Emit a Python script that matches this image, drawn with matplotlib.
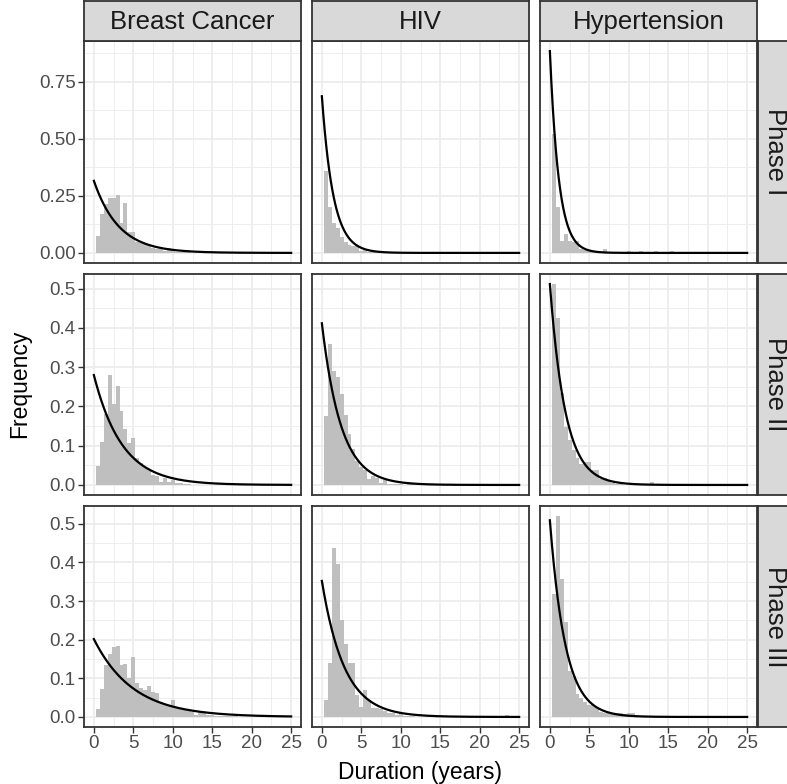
import numpy as np
import matplotlib
matplotlib.use("Agg")
import matplotlib.pyplot as plt

plt.rcParams["font.family"] = ["Liberation Sans", "DejaVu Sans"]

DISEASES = ["Breast Cancer", "HIV", "Hypertension"]
PHASES = ["Phase I", "Phase II", "Phase III"]
BIN_WIDTH = 0.5
FIRST_CENTER = 0.5

# histogram densities, bins centred at 0.5, 1.0, 1.5, ...
HIST = {
    ("Breast Cancer", "Phase I"): [0.076, 0.172, 0.216, 0.241, 0.241, 0.253, 0.131, 0.219, 0.091, 0.091,
                                   0.05, 0.045, 0.04, 0.035, 0.02, 0.018, 0.015, 0.01, 0.02, 0.012,
                                   0.005, 0.006, 0.003, 0.004],
    ("HIV", "Phase I"): [0.36, 0.20, 0.13, 0.11, 0.07, 0.05, 0.035, 0.03, 0.03, 0.01,
                         0.015, 0.005, 0.01, 0.004],
    ("Hypertension", "Phase I"): [0.52, 0.20, 0.054, 0.084, 0.054, 0.05, 0.054, 0.018, 0.013, 0.01,
                                  0.01, 0.008, 0.01, 0.019, 0.0, 0.0, 0.0, 0.0, 0.0, 0.007,
                                  0.0, 0.0, 0.007, 0.0, 0.0, 0.0, 0.007, 0.0, 0.0, 0.0,
                                  0.007],
    ("Breast Cancer", "Phase II"): [0.049, 0.11, 0.181, 0.28, 0.207, 0.253, 0.189, 0.142, 0.108, 0.12,
                                    0.069, 0.056, 0.047, 0.039, 0.026, 0.022, 0.008, 0.018, 0.008, 0.012,
                                    0.005, 0.005, 0.003, 0.002],
    ("HIV", "Phase II"): [0.175, 0.36, 0.29, 0.275, 0.232, 0.178, 0.13, 0.092, 0.06, 0.047,
                          0.039, 0.015, 0.022, 0.018, 0.005, 0.012, 0.003, 0.003, 0.002, 0.003,
                          0.0, 0.008, 0.002],
    ("Hypertension", "Phase II"): [0.512, 0.425, 0.234, 0.147, 0.115, 0.09, 0.069, 0.053, 0.058, 0.059,
                                   0.039, 0.038, 0.014, 0.018, 0.009, 0.005, 0.003, 0.003, 0.0, 0.0,
                                   0.0, 0.0, 0.0, 0.0, 0.0, 0.008],
    ("Breast Cancer", "Phase III"): [0.021, 0.073, 0.135, 0.163, 0.182, 0.184, 0.135, 0.137, 0.101, 0.154,
                                     0.088, 0.075, 0.071, 0.081, 0.064, 0.063, 0.039, 0.034, 0.03, 0.045,
                                     0.026, 0.021, 0.017, 0.015, 0.013, 0.004, 0.013, 0.009, 0.006, 0.004,
                                     0.003, 0.003, 0.002, 0.002, 0.002, 0.002],
    ("HIV", "Phase III"): [0.045, 0.14, 0.437, 0.395, 0.251, 0.189, 0.14, 0.139, 0.056, 0.026,
                           0.07, 0.043, 0.023, 0.023, 0.02, 0.015, 0.009, 0.009, 0.006, 0.009,
                           0.003, 0.003, 0.002, 0.0, 0.0, 0.0, 0.0, 0.0, 0.0, 0.0,
                           0.0, 0.0, 0.0, 0.0, 0.0, 0.0, 0.0, 0.0, 0.0, 0.0,
                           0.0, 0.0, 0.0, 0.0, 0.0, 0.0, 0.006],
    ("Hypertension", "Phase III"): [0.317, 0.52, 0.358, 0.247, 0.12, 0.107, 0.06, 0.049, 0.039, 0.032,
                                    0.03, 0.026, 0.013, 0.009, 0.009, 0.011, 0.01, 0.011, 0.007, 0.009,
                                    0.009],
}

# fitted exponential rates (density at 0)
RATES = {
    ("Breast Cancer", "Phase I"): 0.316, ("HIV", "Phase I"): 0.687, ("Hypertension", "Phase I"): 0.885,
    ("Breast Cancer", "Phase II"): 0.280, ("HIV", "Phase II"): 0.412, ("Hypertension", "Phase II"): 0.512,
    ("Breast Cancer", "Phase III"): 0.2015, ("HIV", "Phase III"): 0.352, ("Hypertension", "Phase III"): 0.509,
}

X_MAX = 25
Y_BREAKS = {
    "Phase I": [0, 0.25, 0.5, 0.75],
    "Phase II": [0, 0.1, 0.2, 0.3, 0.4, 0.5],
    "Phase III": [0, 0.1, 0.2, 0.3, 0.4, 0.5],
}
Y_FMT = {"Phase I": "{:.2f}", "Phase II": "{:.1f}", "Phase III": "{:.1f}"}

W, H = 787, 784
COLS = [(84, 301), (312, 529), (540, 757)]
ROWS = [(41, 263), (274, 495), (506, 727)]
GRID = "#EBEBEB"
DARK = "#333333"


def rect(l, t, r, b):
    return [l / W, 1 - b / H, (r - l) / W, (b - t) / H]


fig = plt.figure(figsize=(W / 100, H / 100), dpi=100)
xs = np.linspace(0, X_MAX, 400)

for i, phase in enumerate(PHASES):
    top = max(max(max(HIST[(d, phase)]), RATES[(d, phase)]) for d in DISEASES)
    ylim = (-0.05 * top, 1.05 * top)
    majors = Y_BREAKS[phase]
    step = majors[1] - majors[0]
    minors = [m + step / 2 for m in majors if ylim[0] < m + step / 2 < ylim[1]]
    for j, dis in enumerate(DISEASES):
        l, r = COLS[j]
        t, b = ROWS[i]
        ax = fig.add_axes(rect(l, t, r, b))
        heights = HIST[(dis, phase)]
        centers = FIRST_CENTER + BIN_WIDTH * np.arange(len(heights))
        ax.bar(centers, heights, width=BIN_WIDTH, color="#BFBFBF", linewidth=0, zorder=2)
        rate = RATES[(dis, phase)]
        ax.plot(xs, rate * np.exp(-rate * xs), color="black", lw=1.6, zorder=3)
        ax.set_xlim(-0.05 * X_MAX, 1.05 * X_MAX)
        ax.set_ylim(*ylim)
        ax.set_xticks(range(0, X_MAX + 1, 5))
        ax.set_xticks([x + 2.5 for x in range(0, X_MAX, 5)], minor=True)
        ax.set_yticks(majors)
        ax.set_yticks(minors, minor=True)
        ax.grid(which="major", color=GRID, lw=1.2, zorder=0)
        ax.grid(which="minor", color=GRID, lw=0.6, zorder=0)
        ax.set_axisbelow(True)
        for s in ax.spines.values():
            s.set_color(DARK)
            s.set_linewidth(1.3)
        ax.tick_params(which="minor", length=0)
        ax.tick_params(which="major", length=4, width=1.0, color=DARK,
                       labelsize=13.5, labelcolor="#4D4D4D", pad=2)
        if j == 0:
            ax.set_yticklabels([Y_FMT[phase].format(v) for v in majors])
        else:
            ax.tick_params(axis="y", which="major", length=0, labelleft=False)
        if i == len(PHASES) - 1:
            ax.set_xticklabels([str(v) for v in range(0, X_MAX + 1, 5)])
        else:
            ax.tick_params(axis="x", which="major", length=0, labelbottom=False)

        if i == 0:
            sa = fig.add_axes(rect(l, 1, r, 41))
            sa.set_facecolor("#D9D9D9")
            sa.set_xticks([])
            sa.set_yticks([])
            for s in sa.spines.values():
                s.set_color(DARK)
                s.set_linewidth(1.3)
            sa.text(0.5, 0.47, dis, ha="center", va="center", fontsize=18.5, color="#1A1A1A",
                    transform=sa.transAxes)

    sa = fig.add_axes(rect(758, ROWS[i][0], 798, ROWS[i][1]))
    sa.set_facecolor("#D9D9D9")
    sa.set_xticks([])
    sa.set_yticks([])
    for s in sa.spines.values():
        s.set_color(DARK)
        s.set_linewidth(1.3)
    sa.text(17 / 40, 0.5, phase, ha="center", va="center", rotation=-90, fontsize=18.5,
            color="#1A1A1A", transform=sa.transAxes)

fig.text(420 / W, 1 - 773 / H, "Duration (years)", ha="center", va="center", fontsize=16.5, color="black")
fig.text(20 / W, 1 - 384 / H, "Frequency", ha="center", va="center", rotation=90, fontsize=16.5, color="black")

fig.savefig("out.png", dpi=100)
